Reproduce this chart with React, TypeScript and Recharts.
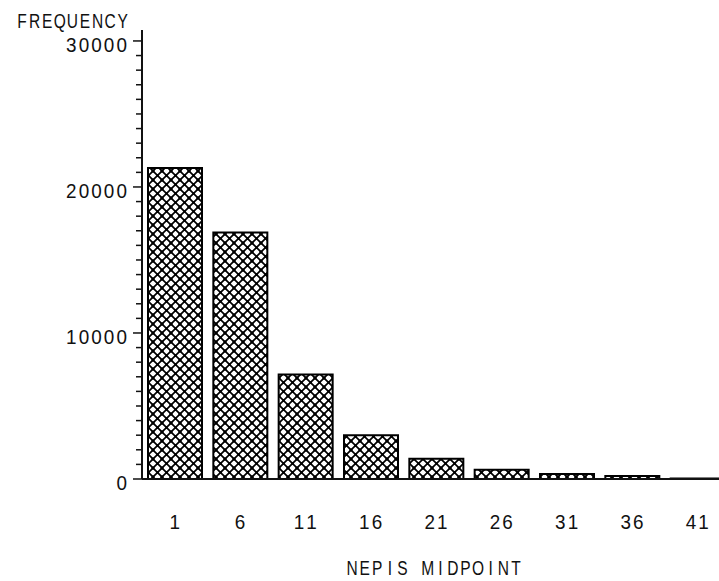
import React from "react";
import { BarChart, Bar, XAxis, YAxis } from "recharts";

const midpoints = ["1", "6", "11", "16", "21", "26", "31", "36", "41"];
const frequencies = [21300, 16880, 7150, 3000, 1380, 640, 340, 200, 30];
const yTicks = Array.from({ length: 31 }, (_, i) => i * 1000);
const majorTicks = [0, 10000, 20000, 30000];

const data = midpoints.map((m, i) => ({ mid: m, freq: frequencies[i] }));

const FONT = "'Liberation Sans', Arial, sans-serif";
const INK = "#111";
const CHAR_W = 12.6;

// fixed-pitch look like the old raster font: each glyph centred in a 12.6px cell,
// glyphs squeezed horizontally (sx) so they stay narrow and tall
function MonoText({ x, y, anchor, sx = 0.9, children }: { x: number; y: number; anchor: "start" | "middle" | "end"; sx?: number; children: string }) {
  const n = children.length;
  const start = anchor === "start" ? x : anchor === "end" ? x - n * CHAR_W : x - (n * CHAR_W) / 2;
  const xs = Array.from({ length: n }, (_, i) => ((start + (i + 0.5) * CHAR_W - x) / sx).toFixed(2)).join(" ");
  return (
    <text x={xs} y={0} transform={`translate(${x},${y}) scale(${sx},1)`} textAnchor="middle" fontFamily={FONT} fontSize={21} fill={INK}>
      {children}
    </text>
  );
}

function YTick(props: any) {
  const { x, y, payload } = props;
  const v = payload.value as number;
  const major = majorTicks.includes(v);
  return (
    <g>
      <line x1={x - (major ? 9 : 6)} x2={x} y1={y} y2={y} stroke={INK} strokeWidth={1.5} />
      {major && (
        <MonoText x={x - 14} y={y + 11} anchor="end">
          {String(v)}
        </MonoText>
      )}
    </g>
  );
}

function XTick(props: any) {
  const { x, y, payload } = props;
  return (
    <MonoText x={x} y={y + 50} anchor="middle">
      {payload.value}
    </MonoText>
  );
}

export default function App() {
  return (
    <div style={{ position: "fixed", left: 0, top: 0, width: 719, height: 581, overflow: "hidden", background: "#fff" }}>
      <BarChart width={730} height={581} data={data} margin={{ top: 30, right: 0, bottom: 0, left: 0 }}>
        <defs>
          <pattern id="xhatch" width={9} height={9} patternUnits="userSpaceOnUse">
            <rect width={9} height={9} fill="#fff" />
            <path d="M0,0 L9,9 M9,0 L0,9" stroke="#000" strokeWidth={1.7} />
            <rect x={-1.5} y={-1.5} width={3} height={3} fill="#000" />
            <rect x={7.5} y={-1.5} width={3} height={3} fill="#000" />
            <rect x={-1.5} y={7.5} width={3} height={3} fill="#000" />
            <rect x={7.5} y={7.5} width={3} height={3} fill="#000" />
            <rect x={3.3} y={3.3} width={2.4} height={2.4} fill="#000" />
          </pattern>
        </defs>
        <XAxis
          dataKey="mid"
          height={102}
          tickLine={false}
          tickSize={0}
          tickMargin={0}
          interval={0}
          axisLine={{ stroke: INK, strokeWidth: 2 }}
          tick={<XTick />}
          label={{
            value: "NEPIS MIDPOINT",
            content: (p: any) => {
              const vb = p.viewBox;
              return (
                <MonoText x={vb.x + vb.width / 2 - 2} y={vb.y + 96} anchor="middle" sx={0.74}>
                  NEPIS MIDPOINT
                </MonoText>
              );
            },
          }}
        />
        <YAxis
          width={142}
          domain={[0, 30750]}
          ticks={yTicks}
          interval={0}
          tickLine={false}
          tickSize={0}
          tickMargin={0}
          axisLine={{ stroke: INK, strokeWidth: 2 }}
          tick={<YTick />}
          label={{
            value: "FREQUENCY",
            content: () => (
              <MonoText x={129} y={28} anchor="end" sx={0.74}>
                FREQUENCY
              </MonoText>
            ),
          }}
        />
        <Bar dataKey="freq" barSize={54} fill="url(#xhatch)" stroke="#000" strokeWidth={2} isAnimationActive={false} />
      </BarChart>
    </div>
  );
}
